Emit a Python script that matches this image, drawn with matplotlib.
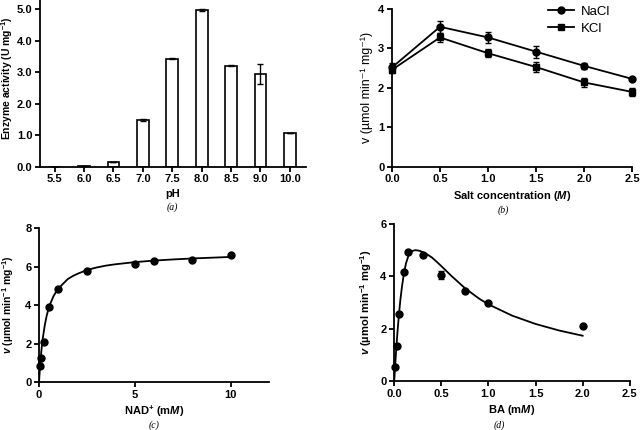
import numpy as np
import matplotlib
matplotlib.use('Agg')
import matplotlib.pyplot as plt

# (a) pH profile
ph_labels = ['5.5', '6.0', '6.5', '7.0', '7.5', '8.0', '8.5', '9.0', '10.0']
ph_activity = [0.01, 0.03, 0.14, 1.49, 3.44, 4.98, 3.21, 2.95, 1.07]
ph_err = [0.0, 0.0, 0.0, 0.04, 0.03, 0.03, 0.02, 0.32, 0.0]

# (b) salt
salt_conc = [0.0, 0.5, 1.0, 1.5, 2.0, 2.5]
nacl_v = [2.52, 3.55, 3.28, 2.92, 2.56, 2.23]
nacl_err = [0.10, 0.15, 0.13, 0.15, 0.08, 0.02]
kcl_v = [2.46, 3.28, 2.88, 2.53, 2.14, 1.90]
kcl_err = [0.08, 0.12, 0.10, 0.12, 0.12, 0.11]

# (c) NAD+
nad_conc = [0.05, 0.1, 0.25, 0.5, 1.0, 2.5, 5.0, 6.0, 8.0, 10.0]
nad_v = [0.85, 1.25, 2.1, 3.92, 4.82, 5.78, 6.15, 6.3, 6.35, 6.62]
nad_fit_x = [0.0, 0.02, 0.05, 0.1, 0.15, 0.2, 0.3, 0.4, 0.5, 0.6, 0.75, 0.9, 1.0,
             1.25, 1.5, 1.75, 2.0, 2.5, 3.0, 3.5, 4.0, 5.0, 6.0, 7.0, 8.0, 9.0, 10.0]
nad_fit_y = [0.0, 0.33, 0.78, 1.4, 1.9, 2.3, 2.95, 3.45, 3.82, 4.1, 4.45, 4.7, 4.85,
             5.1, 5.35, 5.5, 5.62, 5.82, 5.95, 6.05, 6.12, 6.23, 6.31, 6.37, 6.42, 6.46, 6.5]

# (d) BA
ba_conc = [0.01, 0.025, 0.05, 0.1, 0.15, 0.3, 0.5, 0.75, 1.0, 2.0]
ba_v = [0.55, 1.35, 2.55, 4.17, 4.93, 4.83, 4.05, 3.45, 2.97, 2.1]
ba_err = [0.0, 0.0, 0.0, 0.0, 0.0, 0.0, 0.16, 0.0, 0.0, 0.0]
ba_fit_x = [0.0, 0.01, 0.02, 0.035, 0.05, 0.065, 0.08, 0.1, 0.125, 0.15, 0.175, 0.2,
            0.225, 0.25, 0.275, 0.3, 0.35, 0.4, 0.45, 0.5, 0.6, 0.75, 0.9, 1.0,
            1.25, 1.5, 1.75, 2.0]
ba_fit_y = [0.0, 0.6, 1.15, 1.9, 2.55, 3.1, 3.55, 4.05, 4.5, 4.78, 4.92, 4.98,
            5.0, 4.99, 4.97, 4.93, 4.84, 4.72, 4.56, 4.39, 4.04, 3.55, 3.15, 2.93,
            2.5, 2.18, 1.93, 1.73]

plt.rcParams['font.family'] = ['Liberation Sans', 'DejaVu Sans']
plt.rcParams['font.weight'] = 'bold'
plt.rcParams['axes.labelweight'] = 'bold'
plt.rcParams['font.size'] = 8
plt.rcParams['mathtext.fontset'] = 'custom'
plt.rcParams['mathtext.rm'] = 'Liberation Sans:bold'
plt.rcParams['mathtext.it'] = 'Liberation Sans:italic:bold'
plt.rcParams['mathtext.bf'] = 'Liberation Sans:bold'
plt.rcParams['axes.linewidth'] = 1.3
plt.rcParams['xtick.major.width'] = 1.3
plt.rcParams['ytick.major.width'] = 1.3
plt.rcParams['xtick.major.size'] = 3.5
plt.rcParams['ytick.major.size'] = 3.5
plt.rcParams['xtick.major.pad'] = 2
plt.rcParams['ytick.major.pad'] = 2

fig = plt.figure(figsize=(6.4, 4.3), dpi=100)


def style(ax):
    ax.spines['top'].set_visible(False)
    ax.spines['right'].set_visible(False)
    ax.tick_params(labelsize=8)


def panel_label(x, y, s):
    fig.text(x, y, '(' + s + ')', family='Liberation Serif', style='italic',
             weight='normal', fontsize=7, ha='center', va='center')


vlabel = r'$\it{v}$ (µmol min$^{-1}$ mg$^{-1}$)'

# (a)
ax = fig.add_axes([0.0625, 0.612, 0.4156, 0.388])
style(ax)
pos = np.arange(len(ph_labels))
ax.bar(pos, ph_activity, width=0.4, color='white', edgecolor='black', linewidth=1.2)
ax.errorbar(pos, ph_activity, yerr=ph_err, fmt='none', ecolor='black',
            elinewidth=1.0, capsize=2, capthick=1.0)
ax.set_xlim(-0.5, 8.55)
ax.set_ylim(0, 5.3)
ax.set_yticks([0, 1, 2, 3, 4, 5])
ax.set_yticklabels(['0.0', '1.0', '2.0', '3.0', '4.0', '5.0'])
ax.set_xticks(pos)
ax.set_xticklabels(ph_labels)
ax.set_xlabel('pH', labelpad=3)
ax.set_ylabel(r'Enzyme activity (U mg$^{-1}$)', fontsize=7.5)
ax.yaxis.set_label_coords(-0.094, 0.53)
panel_label(0.27, 1 - 207 / 430, 'a')

# (b)
ax = fig.add_axes([0.6125, 0.612, 0.375, 0.367])
style(ax)
ax.errorbar(salt_conc, nacl_v, yerr=nacl_err, color='black', marker='o', ms=5,
            lw=1.3, elinewidth=1.0, capsize=2, capthick=1.0, label='NaCl', clip_on=False)
ax.errorbar(salt_conc, kcl_v, yerr=kcl_err, color='black', marker='s', ms=5,
            lw=1.3, elinewidth=1.0, capsize=2, capthick=1.0, label='KCl', clip_on=False)
ax.set_xlim(0, 2.5)
ax.set_ylim(0, 4)
ax.set_xticks([0, 0.5, 1.0, 1.5, 2.0, 2.5])
ax.set_xticklabels(['0.0', '0.5', '1.0', '1.5', '2.0', '2.5'])
ax.set_yticks([0, 1, 2, 3, 4])
ax.set_xlabel(r'Salt concentration ($\it{M}$)', labelpad=3)
ax.set_ylabel('v (µmol min⁻¹ mg⁻¹)', fontsize=9, fontweight='normal')
ax.yaxis.set_label_coords(-0.078, 0.5)
handles, labels = ax.get_legend_handles_labels()
handles = [h[0] for h in handles]
leg = ax.legend(handles, labels, loc='upper right', bbox_to_anchor=(0.93, 1.055),
                frameon=False, handlelength=2.0, borderaxespad=0, labelspacing=0.35,
                handletextpad=0.5, prop={'weight': 'normal', 'size': 9.5})
panel_label(0.786, 1 - 210 / 430, 'b')

# (c)
ax = fig.add_axes([0.061, 0.1116, 0.359, 0.358])
style(ax)
ax.plot(nad_fit_x, nad_fit_y, color='black', lw=1.3)
ax.plot(nad_conc, nad_v, 'o', color='black', ms=5, clip_on=False)
ax.set_xlim(0, 12)
ax.set_ylim(0, 8)
ax.set_xticks([0, 5, 10])
ax.set_yticks([0, 2, 4, 6, 8])
ax.set_xlabel(r'NAD$^{+}$ (m$\it{M}$)', labelpad=3)
ax.set_ylabel(vlabel, fontsize=7.5)
ax.yaxis.set_label_coords(-0.1, 0.5)
panel_label(0.24, 1 - 425 / 430, 'c')

# (d)
ax = fig.add_axes([0.616, 0.114, 0.368, 0.365])
style(ax)
ax.plot(ba_fit_x, ba_fit_y, color='black', lw=1.3)
ax.errorbar(ba_conc, ba_v, yerr=ba_err, fmt='o', color='black', ms=5,
            elinewidth=1.0, capsize=2.5, capthick=1.0, clip_on=False)
ax.set_xlim(0, 2.5)
ax.set_ylim(0, 6)
ax.set_xticks([0, 0.5, 1.0, 1.5, 2.0, 2.5])
ax.set_xticklabels(['0.0', '0.5', '1.0', '1.5', '2.0', '2.5'])
ax.set_yticks([0, 2, 4, 6])
ax.set_xlabel(r'BA (m$\it{M}$)', labelpad=3)
ax.set_ylabel(vlabel, fontsize=8)
ax.yaxis.set_label_coords(-0.088, 0.5)
panel_label(0.781, 1 - 425 / 430, 'd')

fig.savefig('out.png', dpi=100)
